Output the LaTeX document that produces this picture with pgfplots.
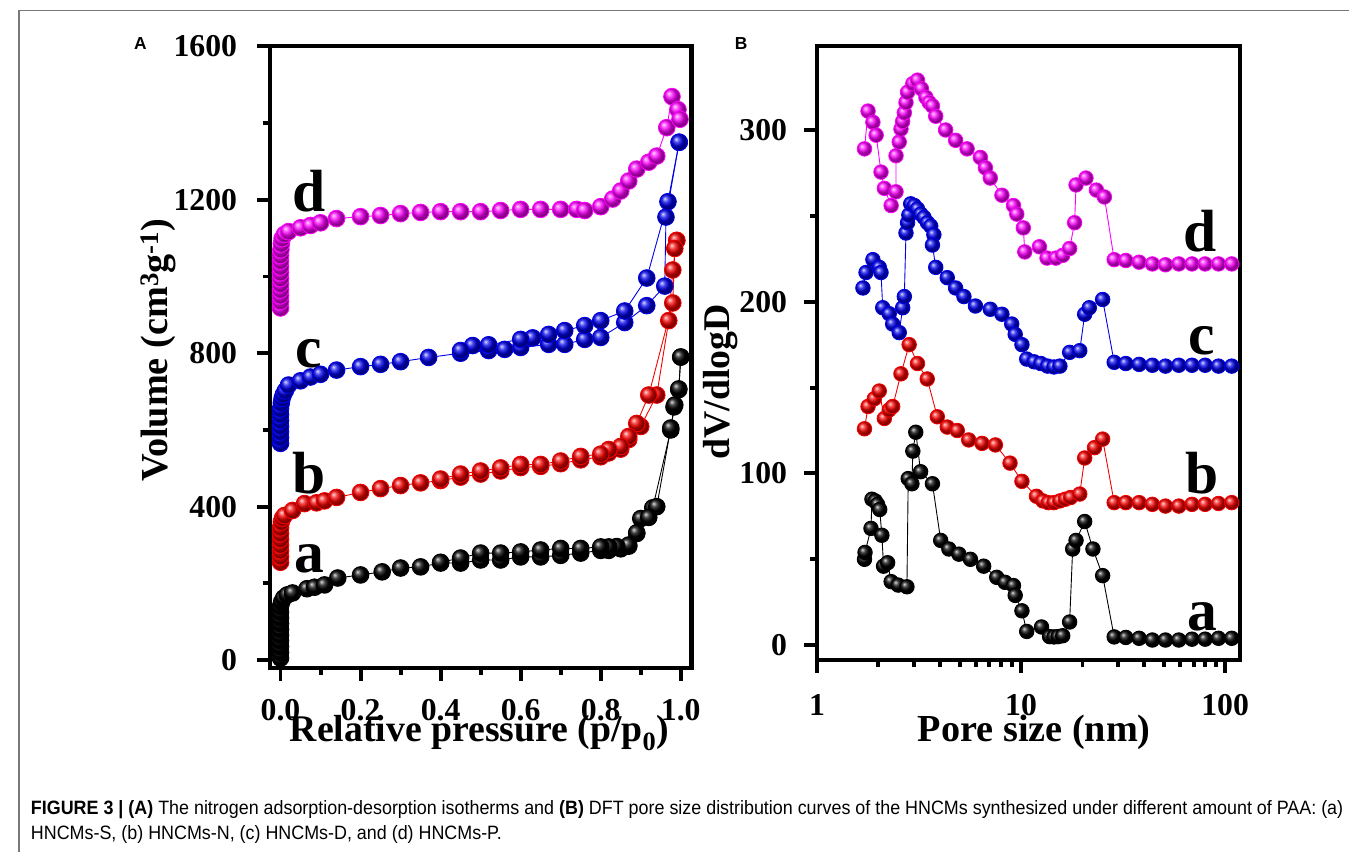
\documentclass[border=0pt]{standalone}
\usepackage{fontspec}
\setmainfont{Liberation Serif}
\newfontfamily\sansf{Liberation Sans}
\usepackage{pgfplots}
\pgfplotsset{compat=1.18}
\definecolor{cmag}{RGB}{255,0,255}
\definecolor{cblue}{RGB}{0,0,235}
\definecolor{cred}{RGB}{245,0,0}
\definecolor{cblack}{RGB}{0,0,0}
\definecolor{framegray}{RGB}{120,120,120}
\pgfplotsset{
  myax/.style={
    scale only axis, anchor=south west, clip=false,
    axis line style={line width=4.3pt},
    tick align=outside, tick pos=left,
    major tick length=13pt, minor tick length=7pt,
    every tick/.style={black, line width=4pt},
    every minor tick/.style={black, line width=4pt},
    tick label style={font=\fontsize{32}{32}\selectfont\bfseries},
    /pgf/number format/assume math mode=true,
    /pgf/number format/1000 sep={},
    scaled ticks=false,
    xticklabel style={anchor=base, inner sep=0pt},
    yticklabel style={anchor=east, inner sep=0pt},
  },
  serA/.style={color=#1, line width=0.9pt, mark=ball, mark size=8.4pt, mark options={ball color=#1}},
  serB/.style={color=#1, line width=0.9pt, mark=ball, mark size=7.3pt, mark options={ball color=#1}},
}
\newsavebox\capone
\newsavebox\captwo
\begin{document}
\sbox\capone{\sansf\fontsize{16.5}{20}\selectfont\textbf{FIGURE 3 | (A)} The nitrogen adsorption-desorption isotherms and \textbf{(B)} DFT pore size distribution curves of the HNCMs synthesized under different amount of PAA: (a)}
\sbox\captwo{\sansf\fontsize{16.5}{20}\selectfont HNCMs-S, (b) HNCMs-N, (c) HNCMs-D, and (d) HNCMs-P.}
\pgfmathsetmacro\capscale{1322/\the\wd\capone}
\pgfmathsetmacro\capvscale{1.08*\capscale}
\begin{tikzpicture}
\useasboundingbox (0pt,0pt) rectangle (1349pt,-858pt);
\draw[line width=1.3pt, framegray] (9pt,-858pt) -- (9pt,-10.7pt) -- (1349pt,-10.7pt);
\node[anchor=base west, inner sep=0pt, font=\sansf\bfseries\fontsize{17.5}{17.5}\selectfont] at (125pt,-50pt) {A};
\node[anchor=base west, inner sep=0pt, font=\sansf\bfseries\fontsize{17.5}{17.5}\selectfont] at (730pt,-50pt) {B};
\node[anchor=base west, inner sep=0pt] at (21pt,-821pt) {\scalebox{\capscale}[\capvscale]{\usebox\capone}};
\node[anchor=base west, inner sep=0pt] at (21pt,-846pt) {\scalebox{\capscale}[\capvscale]{\usebox\captwo}};

% ---------------- Panel A ----------------
\begin{axis}[myax, at={(261.7pt,-672.7pt)}, width=425pt, height=626pt,
  xmin=-0.027, xmax=1.027, ymin=-20, ymax=1600,
  xtick={0,0.2,0.4,0.6,0.8,1.0}, xticklabels={0.0,0.2,0.4,0.6,0.8,1.0},
  minor xtick={0.1,0.3,0.5,0.7,0.9},
  ytick={0,400,800,1200,1600}, minor ytick={200,600,1000,1400},
  xticklabel style={yshift=-40pt}, yticklabel style={xshift=-19.7pt},
]
% a black
\addplot[serA=cblack] coordinates {
(0,5)(0,20)(0,35)(0,50)(0,65)(0,80)(0,95)(0,110)(0,125)(0,140)(0.003,152)(0.008,162)
(0.017,170)(0.03,175)(0.066,186)(0.085,190)(0.11,196)(0.143,214)(0.2,222)(0.254,230)(0.30,240)(0.35,243)
(0.40,253)(0.45,253)(0.5,261)(0.55,261)(0.6,269)(0.65,269)(0.7,273)(0.75,279)(0.8,286)(0.82,286)
(0.85,290)(0.87,297)(0.89,330)(0.90,369)(0.93,397)(0.975,600)(0.983,660)(0.995,705)(1.0,790)};
\addplot[serA=cblack] coordinates {
(1.0,790)(0.995,707)(0.985,665)(0.975,605)(0.94,400)(0.92,372)(0.89,332)(0.87,300)(0.84,296)(0.82,295)(0.8,295)
(0.75,291)(0.7,291)(0.65,287)(0.6,282)(0.55,279)(0.5,279)(0.45,266)(0.4,255)};
% b red
\addplot[serA=cred] coordinates {
(0,255)(0,270)(0,285)(0,300)(0,315)(0,330)(0,345)(0.002,360)(0.005,370)
(0.01,377)(0.03,390)(0.06,408)(0.09,410)(0.11,415)(0.14,424)(0.2,437)(0.25,447)(0.3,455)(0.35,462)
(0.4,468)(0.45,477)(0.5,485)(0.55,493)(0.6,502)(0.65,505)(0.7,512)(0.75,522)(0.8,530)(0.82,540)
(0.85,550)(0.87,575)(0.9,609)(0.94,691)(0.97,885)(0.98,1017)(0.99,1094)};
\addplot[serA=cred] coordinates {
(0.99,1094)(0.985,1073)(0.98,931)(0.92,691)(0.89,617)(0.87,583)(0.85,557)(0.82,549)(0.8,537)
(0.75,531)(0.7,519)(0.65,510)(0.6,510)(0.55,501)(0.5,493)(0.45,485)(0.4,472)};
% c blue
\addplot[serA=cblue] coordinates {
(0,565)(0,580)(0,595)(0,610)(0,625)(0,640)(0,655)(0.002,670)(0.004,682)(0.007,692)
(0.012,702)(0.02,717)(0.05,728)(0.075,738)(0.1,745)(0.14,756)(0.2,765)(0.25,771)(0.3,778)
(0.37,789)(0.45,800)(0.52,807)(0.56,810)(0.6,815)(0.67,823)(0.71,823)(0.76,836)(0.8,841)
(0.86,880)(0.915,924)(0.96,975)(0.963,1155)(0.996,1350)};
\addplot[serA=cblue] coordinates {
(0.996,1350)(0.968,1195)(0.915,996)(0.86,910)(0.8,885)(0.76,872)(0.71,859)(0.67,849)(0.63,840)
(0.6,836)(0.52,822)(0.48,820)(0.45,807)};
% d magenta
\addplot[serA=cmag] coordinates {
(0,918)(0,935)(0,950)(0,965)(0,980)(0,995)(0,1010)(0,1025)(0,1040)(0,1055)(0.001,1070)(0.002,1085)(0.004,1099)
(0.01,1110)(0.02,1117)(0.05,1127)(0.075,1133)(0.1,1140)(0.14,1151)(0.2,1156)(0.25,1159)(0.3,1164)
(0.35,1167)(0.4,1169)(0.45,1169)(0.5,1169)(0.55,1172)(0.6,1175)(0.65,1175)(0.7,1175)(0.74,1175)
(0.76,1172)(0.8,1182)(0.83,1202)(0.85,1223)(0.87,1249)(0.89,1280)(0.92,1298)(0.94,1314)(0.965,1388)
(0.978,1469)(0.993,1435)(0.998,1410)};
\node[anchor=base west, inner sep=0pt, font=\fontsize{60}{60}\selectfont\bfseries] at (axis cs:0.030,1169) {d};
\node[anchor=base west, inner sep=0pt, font=\fontsize{60}{60}\selectfont\bfseries] at (axis cs:0.037,763) {c};
\node[anchor=base west, inner sep=0pt, font=\fontsize{60}{60}\selectfont\bfseries] at (axis cs:0.030,435) {b};
\node[anchor=base west, inner sep=0pt, font=\fontsize{60}{60}\selectfont\bfseries] at (axis cs:0.035,228) {a};
\node[rotate=90, anchor=center, font=\fontsize{38.5}{38.5}\selectfont\bfseries] at (axis description cs:-0.263,0.511) {Volume (cm\textsuperscript{3}g\textsuperscript{-1})};
\node[anchor=base, font=\fontsize{38}{38}\selectfont\bfseries] at (axis description cs:0.497,-0.119) {Relative pressure (p/p\textsubscript{0})};
\end{axis}

% ---------------- Panel B ----------------
\begin{axis}[myax, at={(813pt,-665pt)}, width=426pt, height=618.3pt,
  xmode=log, xmin=1, xmax=118, ymin=-8.7, ymax=348.7,
  xtick={1,10,100}, xticklabels={1,10,100},
  minor xtick={2,3,4,5,6,7,8,9,20,30,40,50,60,70,80,90},
  ytick={0,100,200,300}, minor ytick={50,150,250},
  xticklabel style={yshift=-43pt}, yticklabel style={xshift=-17pt},
]
% a black
\addplot[serB=cblack] coordinates {
(1.71,50)(1.72,54)(1.84,68)(1.86,85)(1.93,84)(1.98,82)(2.03,79)(2.08,64)(2.12,46)(2.22,48)(2.31,37)
(2.5,35)(2.76,34)(2.8,97)(2.92,94)(2.95,113)(3.05,124)(3.22,101)(3.68,94)(4.04,61)(4.43,56)(4.96,53)
(5.65,50)(6.56,46)(7.6,39.5)(8.35,36.6)(9.18,34.7)(9.36,29)(10.1,20)(10.66,8)(12.6,10.6)(13.8,5)
(14.5,4.8)(15.2,5)(16,5.5)(17.3,13.5)(17.9,56)(18.6,61)(20.5,72)(22.5,56)(25.1,40.5)(28.6,4.8)
(32.6,4.5)(37.9,4)(44,3)(51,3)(59.3,3)(68.8,3.5)(79.8,3.5)(92.8,4)(107.7,4)};
% b red
\addplot[serB=cred] coordinates {
(1.71,126)(1.78,139)(1.91,143.5)(2.02,148)(2.14,132)(2.26,137)(2.35,139)(2.58,158)(2.83,175)
(3.11,164)(3.47,155)(3.89,133)(4.35,127)(4.87,125)(5.54,119.5)(6.44,117.5)(7.49,116.6)(8.83,106)
(10.1,95.4)(11.9,86.7)(12.8,84)(13.6,83)(14.5,83)(15.5,84)(16.5,85)(17.5,86)(19.4,88)(20.5,109)
(22.9,115)(25.1,120)(28.6,83)(32.6,83)(37.9,83)(44,82)(51,81)(59.3,81)(68.8,82)(79.8,82)(92.8,82.5)(107.7,83)};
% c blue
\addplot[serB=cblue] coordinates {
(1.68,208)(1.74,217)(1.88,224.5)(2.02,220)(2.06,217)(2.10,196.5)(2.26,193)(2.35,187)(2.53,182)
(2.63,196.5)(2.68,203)(2.73,240)(2.78,246)(2.82,250.5)(2.88,257)(3.0,256)(3.11,254)(3.23,251)(3.35,249)
(3.48,246)(3.61,244)(3.74,239)(3.68,233)(3.82,220)(4.35,214)(4.78,208)(5.25,203)(5.98,197.5)
(7.07,195.6)(8.06,192.7)(9.0,187)(9.36,181)(10.1,175)(10.66,166.6)(11.6,165)(12.5,164)(13.5,162.5)
(14.5,162)(15.5,162.5)(17.3,170.5)(19.4,171.5)(20.5,192.7)(21.6,196.5)(25.1,201.3)(28.6,164.7)
(32.6,164)(37.9,163.5)(44,163)(51,162.5)(59.3,163)(68.8,163)(79.8,163)(92.8,162.5)(107.7,162.5)};
% d magenta
\addplot[serB=cmag] coordinates {
(1.71,289)(1.78,311)(1.88,304.5)(1.95,297)(2.06,275.5)(2.14,266)(2.31,256)(2.44,264)(2.44,285)
(2.53,293)(2.58,300.6)(2.63,305)(2.68,310)(2.73,316)(2.78,322)(2.95,327)(3.11,329)(3.25,324)(3.42,319)
(3.55,316)(3.68,314)(3.82,308)(4.27,300)(4.78,294)(5.44,289)(6.32,284)(6.69,278)(7.07,272)(8.06,262)
(9.18,256)(9.53,251)(10.26,243)(10.43,229)(12.3,232)(13.4,225.4)(14.8,225.4)(16,227)(17.3,231)
(18.3,246)(18.6,268)(20.8,272)(23.4,265)(25.6,261)(28.6,224.5)(32.6,224)(37.9,223)(44,222)
(51,221.5)(59.3,222)(68.8,222)(79.8,222)(92.8,222)(107.7,222)};
\node[anchor=base west, inner sep=0pt, font=\fontsize{60}{60}\selectfont\bfseries] at (axis cs:62.5,229.5) {d};
\node[anchor=base west, inner sep=0pt, font=\fontsize{60}{60}\selectfont\bfseries] at (axis cs:66.0,169.4) {c};
\node[anchor=base west, inner sep=0pt, font=\fontsize{60}{60}\selectfont\bfseries] at (axis cs:64.0,88.4) {b};
\node[anchor=base west, inner sep=0pt, font=\fontsize{60}{60}\selectfont\bfseries] at (axis cs:65.3,8.7) {a};
\node[rotate=90, anchor=center, font=\fontsize{38}{38}\selectfont\bfseries] at (axis description cs:-0.228,0.453) {dV/dlogD};
\node[anchor=base, font=\fontsize{38.5}{38.5}\selectfont\bfseries] at (axis description cs:0.514,-0.133) {Pore size (nm)};
\end{axis}
\end{tikzpicture}
\end{document}
